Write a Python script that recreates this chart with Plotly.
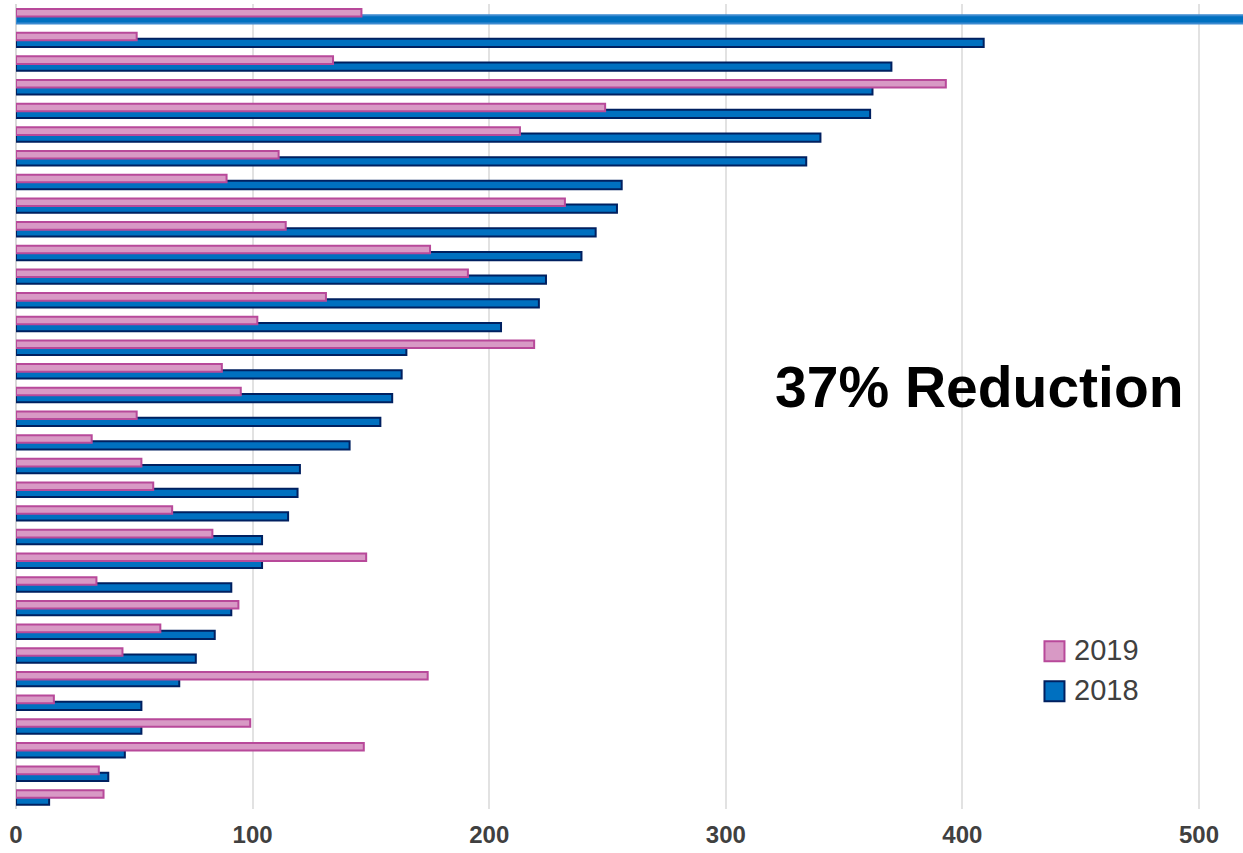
import plotly.graph_objects as go

# Ranked entries, top to bottom
categories = [str(i) for i in range(1, 35)]

# 2018 counts (first entry runs past the axis end)
values_2018 = [560, 409, 370, 362, 361, 340, 334, 256, 254, 245, 239, 224, 221,
               205, 165, 163, 159, 154, 141, 120, 119, 115, 104, 104, 91, 91,
               84, 76, 69, 53, 53, 46, 39, 14]

# 2019 counts
values_2019 = [146, 51, 134, 393, 249, 213, 111, 89, 232, 114, 175, 191, 131,
               102, 219, 87, 95, 51, 32, 53, 58, 66, 83, 148, 34, 94, 61, 45,
               174, 16, 99, 147, 35, 37]

x_ticks = [0, 100, 200, 300, 400, 500]

BLUE_FILL = "#0070C0"
BLUE_EDGE = "#002060"
PINK_FILL = "#D899C5"
PINK_EDGE = "#B8499A"

blue_edges = [BLUE_EDGE] * len(values_2018)
blue_edges[0] = "#3C8AD0"

fig = go.Figure()
fig.add_trace(go.Bar(
    name="2018", y=categories, x=values_2018, orientation="h",
    width=0.35, offset=-0.03,
    marker=dict(color=BLUE_FILL, line=dict(color=blue_edges, width=2)),
    showlegend=False,
))
fig.add_trace(go.Bar(
    name="2019", y=categories, x=values_2019, orientation="h",
    width=0.32, offset=-0.29,
    marker=dict(color=PINK_FILL, line=dict(color=PINK_EDGE, width=2)),
    showlegend=False,
))

# Legend drawn as swatches + labels
legend_items = [("2019", PINK_FILL, PINK_EDGE, 0.2084, 0.1975),
                ("2018", BLUE_FILL, BLUE_EDGE, 0.1588, 0.1475)]
shapes = []
annotations = []
for label, fill, edge, top, mid in legend_items:
    shapes.append(dict(type="rect", xref="paper", yref="paper",
                       x0=0.8382, x1=0.8545, y0=top - 0.0248, y1=top,
                       fillcolor=fill, line=dict(color=edge, width=2)))
    annotations.append(dict(text=label, xref="paper", yref="paper",
                            x=0.8605, y=mid, xanchor="left", yanchor="middle",
                            showarrow=False,
                            font=dict(family="Liberation Sans", size=29, color="#404040")))

annotations.append(dict(text="<b>37% Reduction</b>", xref="paper", yref="paper",
                        x=0.785, y=0.524, xanchor="center", yanchor="middle",
                        showarrow=False,
                        font=dict(family="Liberation Sans", size=57, color="#000000")))

fig.update_layout(
    width=1243, height=853,
    margin=dict(l=16, r=0, t=4, b=44),
    barmode="overlay",
    plot_bgcolor="white", paper_bgcolor="white",
    shapes=shapes, annotations=annotations,
    showlegend=False,
)
fig.update_xaxes(
    range=[0, 518.6], tickvals=x_ticks, ticktext=[str(v) for v in x_ticks],
    showgrid=True, gridcolor="#E2E2E2", gridwidth=1.5,
    zeroline=True, zerolinecolor="#D9D9D9", zerolinewidth=1.5,
    showline=False, ticks="", ticklabelstandoff=9,
    tickfont=dict(family="Liberation Sans", size=24, color="#404040", weight="bold"),
)
fig.update_yaxes(
    type="category", categoryorder="array", categoryarray=categories,
    autorange="reversed", showticklabels=False, showgrid=False,
    zeroline=False, showline=False, ticks="",
)

fig.write_html("out.html")
